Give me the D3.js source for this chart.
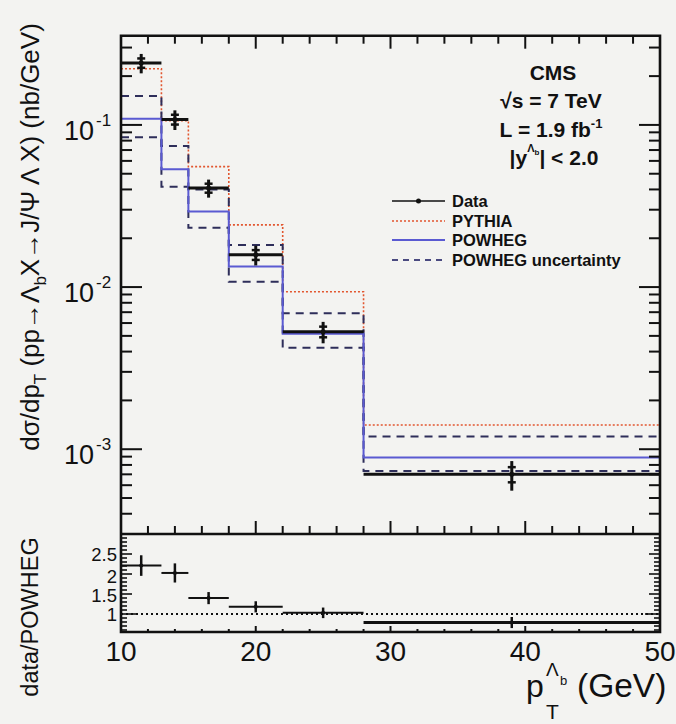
<!DOCTYPE html>
<html>
<head>
<meta charset="utf-8">
<script src="https://cdn.jsdelivr.net/npm/d3@7"></script>
<style>
  html, body { margin: 0; padding: 0; background: #f3f3f1; }
  svg { display: block; font-family: "Liberation Sans", Arial, Helvetica, sans-serif; }
</style>
</head>
<body>
<svg id="chart" width="676" height="724"></svg>
<script>
// Lambda_b differential cross section vs pT, with ratio to POWHEG
const binEdges   = [10, 13, 15, 18, 22, 28, 50];
const dataX      = [11.5, 14.0, 16.5, 20.0, 25.0, 39.0];
const dataY      = [0.241, 0.108, 0.0408, 0.0158, 0.0053, 7.0e-4];
const dataErr    = [0.033, 0.015, 0.0052, 0.0022, 0.0008, 1.45e-4];
const dataStat   = [0.016, 0.0075, 0.0026, 0.0011, 0.0004, 0.75e-4];
const pythia     = [0.222, 0.106, 0.0553, 0.0242, 0.00935, 1.41e-3];
const powheg     = [0.109, 0.0533, 0.0292, 0.0134, 0.00515, 8.9e-4];
const powhegUp   = [0.151, 0.0742, 0.0400, 0.0182, 0.0069, 1.20e-3];
const powhegDown = [0.0839, 0.0416, 0.0232, 0.0108, 0.00422, 7.35e-4];
const xTicks     = [10, 20, 30, 40, 50];
const ratioTicks = [1, 1.5, 2, 2.5];
const legendItems = ["Data", "PYTHIA", "POWHEG", "POWHEG uncertainty"];

const svg = d3.select("#chart");

const L = 121, R = 660;
const mainTop = 35.7, mainBot = 534;
const ratTop = 534, ratBot = 632;

const x = d3.scaleLinear().domain([10, 50]).range([L, R]);
const y = d3.scaleLog().domain([3e-4, 0.355]).range([mainBot, mainTop]);
const yr = d3.scaleLinear().domain([0.55, 3.0]).range([ratBot, ratTop]);

const ratio    = dataY.map((v, i) => v / powheg[i]);
const ratioErr = dataErr.map((v, i) => v / powheg[i] * 0.85);

// ---------- step histograms ----------
function stepPath(vals, ys) {
  const p = d3.path();
  vals.forEach((v, i) => {
    const yy = ys(v);
    if (i === 0) p.moveTo(x(binEdges[0]), yy); else p.lineTo(x(binEdges[i]), yy);
    p.lineTo(x(binEdges[i + 1]), yy);
  });
  return p.toString();
}

const g = svg.append("g");

g.append("path").attr("d", stepPath(pythia, y))
  .attr("fill", "none").attr("stroke", "#e2562f").attr("stroke-width", 1.6)
  .attr("stroke-dasharray", "2,2");
g.append("path").attr("d", stepPath(powhegUp, y))
  .attr("fill", "none").attr("stroke", "#2e2e5a").attr("stroke-width", 2)
  .attr("stroke-dasharray", "8,6");
g.append("path").attr("d", stepPath(powhegDown, y))
  .attr("fill", "none").attr("stroke", "#2e2e5a").attr("stroke-width", 2)
  .attr("stroke-dasharray", "8,6");
g.append("path").attr("d", stepPath(powheg, y))
  .attr("fill", "none").attr("stroke", "#5a5ad2").attr("stroke-width", 2);

// ---------- data points ----------
function drawData(grp, ys, vals, errs, stats) {
  vals.forEach((v, i) => {
    const cx = x(dataX[i]), cy = ys(v);
    grp.append("line").attr("x1", x(binEdges[i])).attr("x2", x(binEdges[i + 1]))
      .attr("y1", cy).attr("y2", cy).attr("stroke", "#111").attr("stroke-width", 3);
    grp.append("line").attr("x1", cx).attr("x2", cx)
      .attr("y1", ys(v + errs[i])).attr("y2", ys(v - errs[i]))
      .attr("stroke", "#111").attr("stroke-width", 3);
    if (stats) {
      [v + stats[i], v - stats[i]].forEach(s => {
        grp.append("line").attr("x1", cx - 4).attr("x2", cx + 4)
          .attr("y1", ys(s)).attr("y2", ys(s)).attr("stroke", "#111").attr("stroke-width", 2.5);
      });
    }
    grp.append("circle").attr("cx", cx).attr("cy", cy).attr("r", 2.5).attr("fill", "#111");
  });
}
drawData(g, y, dataY, dataErr, dataStat);

// ---------- ratio panel ----------
const gr = svg.append("g");
gr.append("line").attr("x1", L).attr("x2", R).attr("y1", yr(1)).attr("y2", yr(1))
  .attr("stroke", "#111").attr("stroke-width", 2).attr("stroke-dasharray", "2,3");
ratio.forEach((v, i) => {
  const cx = x(dataX[i]), cy = yr(v);
  gr.append("line").attr("x1", x(binEdges[i])).attr("x2", x(binEdges[i + 1]))
    .attr("y1", cy).attr("y2", cy).attr("stroke", "#111").attr("stroke-width", i === 5 ? 3 : 2);
  gr.append("line").attr("x1", cx).attr("x2", cx)
    .attr("y1", yr(v + ratioErr[i])).attr("y2", yr(v - ratioErr[i]))
    .attr("stroke", "#111").attr("stroke-width", 2.5);
  gr.append("circle").attr("cx", cx).attr("cy", cy).attr("r", 2).attr("fill", "#111");
});

// ---------- frames and ticks ----------
const frame = svg.append("g").attr("stroke", "#111");
const tick = (x1, y1, x2, y2, w) => frame.append("line")
  .attr("x1", x1).attr("y1", y1).attr("x2", x2).attr("y2", y2).attr("stroke-width", w || 2);

// x ticks (main top/bottom, ratio bottom)
d3.range(10, 51, 2).forEach(v => {
  const major = v % 10 === 0;
  const xx = x(v);
  if (v > 10 && v < 50) {
    tick(xx, mainTop, xx, mainTop + (major ? 13 : 8));
    tick(xx, mainBot, xx, mainBot - (major ? 13 : 8));
    tick(xx, ratBot, xx, ratBot - (major ? 6 : 3));
  }
});

// log y ticks, both sides
const logTicks = [];
for (let e = -4; e <= 0; e++) for (let m = 1; m <= 9; m++) {
  const v = m * Math.pow(10, e);
  if (v >= 3e-4 && v <= 0.355) logTicks.push({ v, major: m === 1 });
}
logTicks.forEach(t => {
  const yy = y(t.v);
  const len = t.major ? 21 : 11;
  tick(L, yy, L + len, yy);
  tick(R, yy, R - len, yy);
});

// ratio y ticks
d3.range(6, 30).forEach(k => {
  const v = k / 10;
  if (v < 0.55) return;
  const major = k % 5 === 0;
  const yy = yr(v);
  const len = (k === 10) ? 15 : (major ? 11 : 6);
  tick(L, yy, L + len, yy, 1.6);
  tick(R, yy, R - len, yy, 1.6);
});

// outer frame
frame.append("path")
  .attr("d", `M${L},${mainTop}H${R}V${ratBot}H${L}Z`)
  .attr("fill", "none").attr("stroke-width", 2.6);
tick(L, mainBot, R, mainBot, 2.4);

// ---------- tick labels ----------
const txt = svg.append("g").attr("fill", "#111");
xTicks.forEach(v => {
  txt.append("text").attr("x", x(v)).attr("y", 661).attr("text-anchor", "middle")
    .attr("font-size", 28).text(v);
});
[-1, -2, -3].forEach(e => {
  const yy = y(Math.pow(10, e));
  txt.append("text").attr("x", 94).attr("y", yy + 15).attr("text-anchor", "end")
    .attr("font-size", 27).text("10");
  txt.append("text").attr("x", 96).attr("y", yy + 1).attr("font-size", 17).text("-" + (-e));
});
const ratioLabelShift = { 1: 0, 1.5: 1, 2: 2, 2.5: 0 };
ratioTicks.forEach(v => {
  txt.append("text").attr("x", 117).attr("y", yr(v) + 6.5 + ratioLabelShift[v])
    .attr("text-anchor", "end").attr("font-size", 18.5).text(v);
});

// ---------- axis titles ----------
const yt = txt.append("text")
  .attr("transform", "translate(39,237) rotate(-90)")
  .attr("text-anchor", "middle").attr("font-size", 26);
yt.append("tspan").text("dσ/dp");
yt.append("tspan").attr("font-size", 17).attr("dy", 7).text("T");
yt.append("tspan").attr("dy", -7).text(" (pp→Λ");
yt.append("tspan").attr("font-size", 17).attr("dy", 7).text("b");
yt.append("tspan").attr("dy", -7).text("X→J/Ψ Λ X) (nb/GeV)");

txt.append("text")
  .attr("transform", "translate(38,617) rotate(-90)")
  .attr("text-anchor", "middle").attr("font-size", 23.5).text("data/POWHEG");

txt.append("text").attr("x", 526).attr("y", 697).attr("font-size", 32).text("p");
txt.append("text").attr("x", 546).attr("y", 719).attr("font-size", 21).text("T");
txt.append("text").attr("x", 546).attr("y", 676).attr("font-size", 19).text("Λ");
txt.append("text").attr("x", 560).attr("y", 685).attr("font-size", 13).text("b");
txt.append("text").attr("x", 577).attr("y", 697).attr("font-size", 33.5).text("(GeV)");

// ---------- CMS label ----------
const info = txt.append("g").attr("font-weight", "bold").attr("text-anchor", "middle");
info.append("text").attr("x", 553).attr("y", 80).attr("font-size", 21).text("CMS");
const s2 = info.append("text").attr("x", 551).attr("y", 108).attr("font-size", 21);
s2.append("tspan").text("√s = 7 TeV");
const s3 = info.append("text").attr("x", 551).attr("y", 137).attr("font-size", 21);
s3.append("tspan").text("L = 1.9 fb");
s3.append("tspan").attr("font-size", 13).attr("dy", -9).text("-1");
const s4 = info.append("text").attr("x", 554).attr("y", 165).attr("font-size", 21);
s4.append("tspan").text("|y");
s4.append("tspan").attr("font-size", 11).attr("dy", -13).text("Λ");
s4.append("tspan").attr("font-size", 8).attr("dy", 3).text("b");
s4.append("tspan").attr("dy", 10).text("| < 2.0");

// ---------- legend ----------
const leg = svg.append("g");
const rowY = [201, 221, 240, 260];
const lx1 = 392, lx2 = 445;
leg.append("line").attr("x1", lx1).attr("x2", lx2).attr("y1", rowY[0]).attr("y2", rowY[0])
  .attr("stroke", "#111").attr("stroke-width", 1.6);
leg.append("circle").attr("cx", (lx1 + lx2) / 2).attr("cy", rowY[0]).attr("r", 2.5).attr("fill", "#111");
leg.append("line").attr("x1", lx1).attr("x2", lx2).attr("y1", rowY[1]).attr("y2", rowY[1])
  .attr("stroke", "#e2562f").attr("stroke-width", 1.6).attr("stroke-dasharray", "2,2");
leg.append("line").attr("x1", lx1).attr("x2", lx2).attr("y1", rowY[2]).attr("y2", rowY[2])
  .attr("stroke", "#5a5ad2").attr("stroke-width", 2);
leg.append("line").attr("x1", lx1).attr("x2", lx2).attr("y1", rowY[3]).attr("y2", rowY[3])
  .attr("stroke", "#4a4a80").attr("stroke-width", 2).attr("stroke-dasharray", "6,5");
legendItems.forEach((t, i) => {
  leg.append("text").attr("x", 452).attr("y", rowY[i] + 6).attr("font-size", 16.5)
    .attr("font-weight", "bold").attr("fill", "#111").text(t);
});
</script>
</body>
</html>
